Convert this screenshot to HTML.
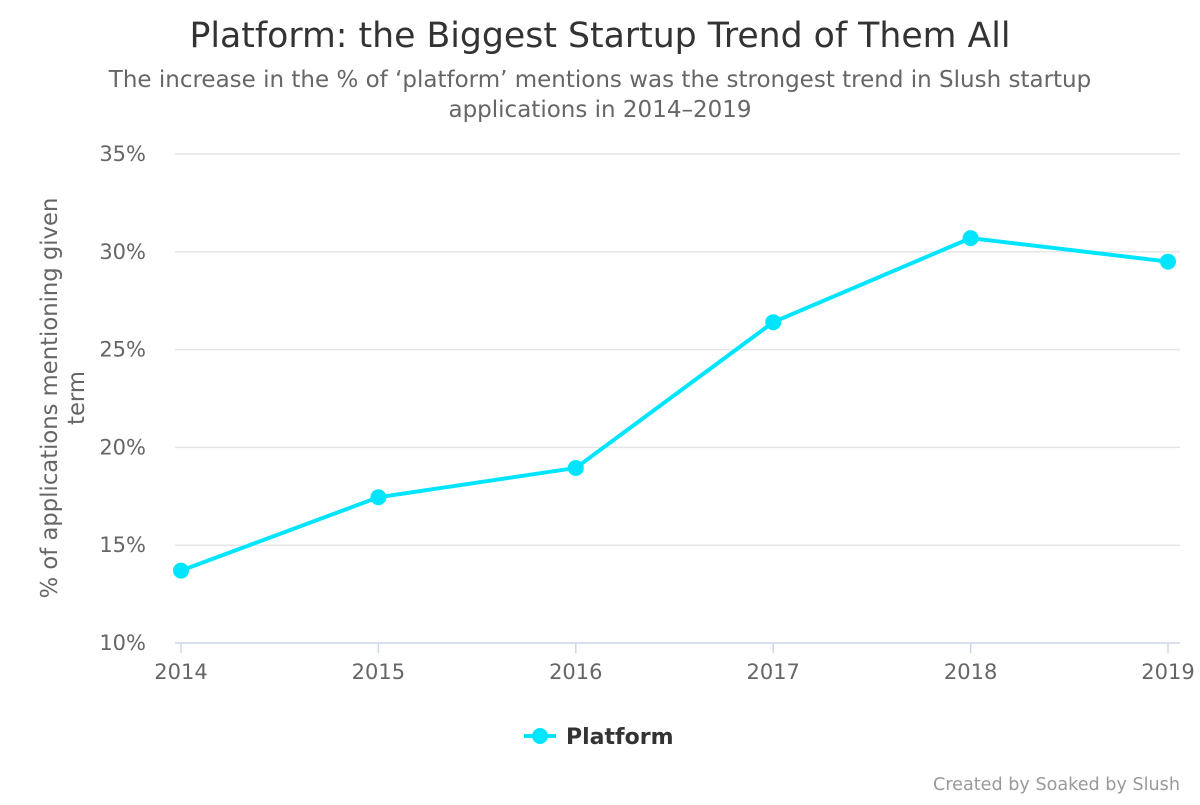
<!DOCTYPE html>
<html><head><meta charset="utf-8"><style>
body{margin:0;background:#fff;width:1200px;height:800px;overflow:hidden;font-family:"Liberation Sans","DejaVu Sans",sans-serif}
svg text{font-family:"DejaVu Sans","Liberation Sans",sans-serif}
</style></head><body>
<svg id="chart" width="1200" height="800" xmlns="http://www.w3.org/2000/svg">
<text x="600" y="47" text-anchor="middle" font-size="34.7" fill="#333">Platform: the Biggest Startup Trend of Them All</text>
<text x="600" y="87" text-anchor="middle" font-size="23" fill="#666">The increase in the % of ‘platform’ mentions was the strongest trend in Slush startup</text>
<text x="600" y="117" text-anchor="middle" font-size="23" fill="#666">applications in 2014–2019</text>
<g id="grid"></g>
<g id="xaxis"></g>
<g id="yaxis"></g>
<text transform="translate(60,398) rotate(-90)" text-anchor="middle" font-size="22.7" fill="#666"><tspan x="0" dy="-3">% of applications mentioning given</tspan><tspan x="0" dy="27">term</tspan></text>
<g id="series"></g>
<g>
<line x1="524" y1="736" x2="556" y2="736" stroke="#00E5FF" stroke-width="4"/>
<circle cx="540" cy="736" r="8" fill="#00E5FF"/>
<text x="566" y="744" font-size="22" font-weight="bold" fill="#333">Platform</text>
</g>
<text x="1180" y="790" text-anchor="end" font-size="17.6" fill="#999">Created by Soaked by Slush</text>
</svg>
<script>
const categories=["2014","2015","2016","2017","2018","2019"];
const platformValues=[13.7,17.45,18.95,26.4,30.7,29.5];
const yTicks=[10,15,20,25,30,35];
const NS="http://www.w3.org/2000/svg";
const x0=181,x1=1168,yBase=643,yTop=154,left=175,right=1180;
const xs=i=>x0+(x1-x0)*i/(categories.length-1);
const ys=v=>yBase-(v-10)/25*(yBase-yTop);
function mk(tag,attrs,parent){const e=document.createElementNS(NS,tag);for(const k in attrs)e.setAttribute(k,attrs[k]);parent.appendChild(e);return e;}
const grid=document.getElementById('grid'),xa=document.getElementById('xaxis'),ya=document.getElementById('yaxis'),se=document.getElementById('series');
yTicks.forEach(t=>{
 if(t>10){const l=mk('line',{x1:left,x2:right,y1:ys(t),y2:ys(t),stroke:'#e6e6e6','stroke-width':1.5},grid);
 
 }
 const tx=mk('text',{x:146,y:ys(t)+7,'text-anchor':'end','font-size':21,fill:'#666'},ya);
 tx.textContent=t+'%';
 
 
});
const ax=mk('line',{x1:left,x2:right,y1:yBase,y2:yBase,stroke:'#ccd6eb','stroke-width':1.5},xa);


categories.forEach((c,i)=>{
 const tk=mk('line',{x1:xs(i),x2:xs(i),y1:yBase,y2:yBase+10,stroke:'#ccd6eb','stroke-width':1.5},xa);
 
 
 const tx=mk('text',{x:xs(i),y:679,'text-anchor':'middle','font-size':21,fill:'#666'},xa);
 tx.textContent=c;
 
 
});
const pts=platformValues.map((v,i)=>xs(i)+','+ys(v)).join(' ');
const pl=mk('polyline',{points:pts,fill:'none',stroke:'#00E5FF','stroke-width':4,'stroke-linejoin':'round'},se);


platformValues.forEach((v,i)=>{
 const c=mk('circle',{cx:xs(i),cy:ys(v),r:8,fill:'#00E5FF'},se);
 
 
});
</script>
</body></html>
